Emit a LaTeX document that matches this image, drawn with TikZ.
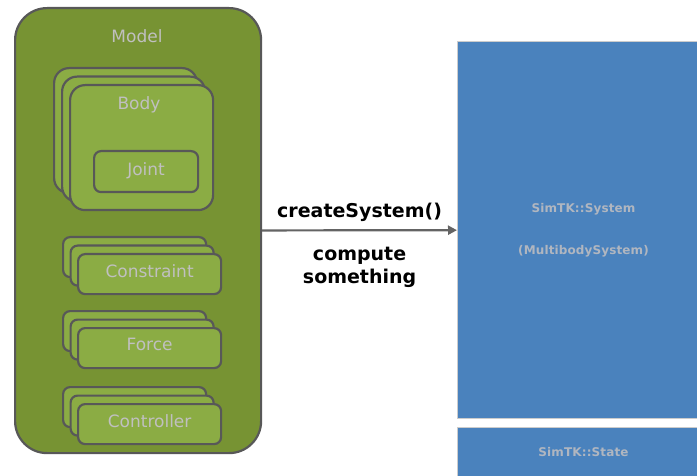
\documentclass[tikz,border=0pt]{standalone}
\usepackage{fontspec}
\setmainfont{DejaVu Sans}
\usetikzlibrary{arrows.meta}
\definecolor{olivebg}{RGB}{119,147,51}
\definecolor{leafgreen}{RGB}{139,172,68}
\definecolor{rimgray}{RGB}{88,88,88}
\definecolor{textgray}{RGB}{192,192,192}
\definecolor{simblue}{RGB}{74,130,189}
\definecolor{bluetext}{RGB}{176,182,192}
\definecolor{arrowgray}{RGB}{100,100,100}

\begin{document}
\begin{tikzpicture}[x=1pt,y=-1pt,inner sep=0pt]
    \tikzstyle{grayfont}=[text=textgray,font=\fontsize{17}{20}\selectfont]
    \tikzstyle{card}=[rectangle,draw=rimgray,fill=leafgreen,line width=2.2pt,rounded corners=7pt,anchor=north west,minimum width=143pt,minimum height=40pt]
    \tikzstyle{simbox}=[rectangle,draw=black!20,fill=simblue,line width=1pt,anchor=north west,minimum width=252pt,text=bluetext,font=\bfseries\fontsize{12}{42}\selectfont\addfontfeatures{LetterSpace=1},align=center]
    \tikzstyle{callfont}=[text=black,font=\bfseries\fontsize{19}{23}\selectfont]

    \path[use as bounding box,fill=white] (0,0) rectangle (697,476);

    \node[rectangle,draw=rimgray,fill=olivebg,line width=2.2pt,rounded corners=32pt,anchor=north west,minimum width=246pt,minimum height=445pt] (model) at (14,7) {};
    \node[grayfont] (modeltxt) at (137,36) {Model};

    % body stack
    \foreach \k in {0,1,2} {
        \node[card,rounded corners=15pt,minimum height=125pt] (body\k) at (53+8*\k,67+8.5*\k) {};
    };
    \node[grayfont] (bodytxt) at (139,105) {Body};
    \node[card,grayfont,minimum width=104pt,minimum height=41pt,text depth=6pt] (joint) at (93,150) {Joint};

    % the other stacks
    \foreach \name/\lbl/\y in {cons/Constraint/236,force/Force/310,ctrl/Controller/386} {
        \node[card] (\name0) at (62,\y) {};
        \node[card] (\name1) at (69.5,\y+8.5) {};
        \node[card,grayfont,text depth=7pt] (\name2) at (77,\y+17) {\lbl};
    };

    \node[simbox,minimum height=377pt] (system) at (457,41) {SimTK::System\\(MultibodySystem)};
    \node[simbox,minimum height=50pt] (state) at (457,427) {SimTK::State};

    \draw[arrowgray,line width=2.2pt,-{Triangle[length=9pt,width=9pt]}] (model) -- (system)
        node[midway,anchor=base,yshift=13pt,callfont] (create) {createSystem()}
        node[midway,below=16pt,align=center,callfont] (compute) {compute\\something};
\end{tikzpicture}
\end{document}
